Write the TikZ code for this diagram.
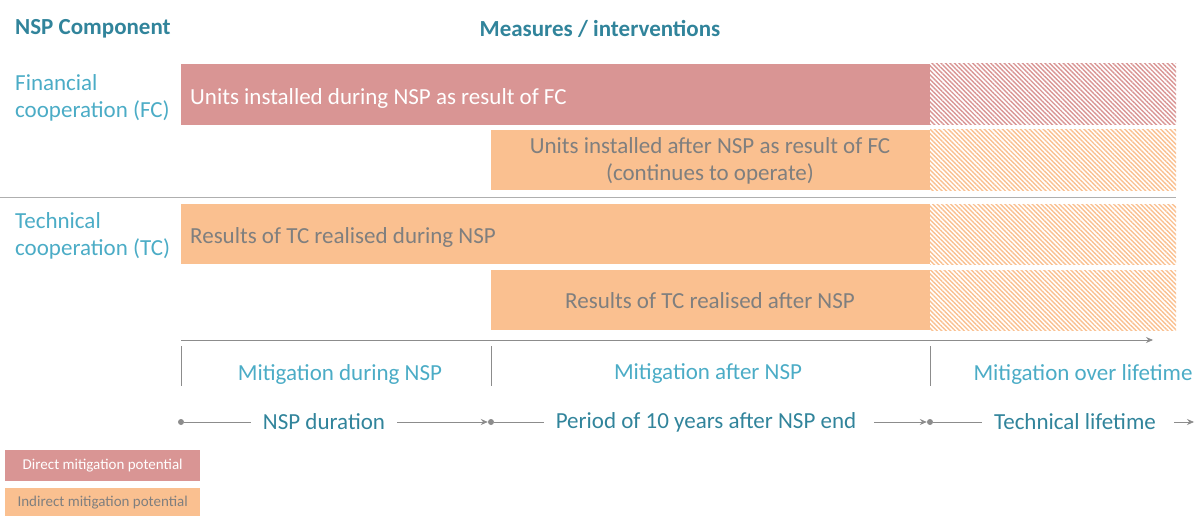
\documentclass[tikz,border=0pt]{standalone}
\usepackage{fontspec}
\setmainfont{Carlito}
\usetikzlibrary{patterns.meta,arrows.meta}

\definecolor{direct}{HTML}{D99594}
\definecolor{indirect}{HTML}{FAC090}
\definecolor{tealdark}{HTML}{31849B}
\definecolor{teallight}{HTML}{4BACC6}
\definecolor{greytext}{HTML}{7F7F7F}
\definecolor{greyline}{HTML}{8C8C8C}

\tikzset{
  head/.style={font=\bfseries\fontsize{23}{27}\selectfont,text=tealdark,inner sep=0pt},
  comp/.style={font=\fontsize{23}{27}\selectfont,text=teallight,align=left,anchor=west,inner sep=0pt},
  bartext/.style={font=\fontsize{23}{27}\selectfont,inner sep=0pt},
  mitig/.style={font=\fontsize{23}{27}\selectfont,text=teallight,inner sep=0pt},
  period/.style={font=\fontsize{23}{27}\selectfont,text=tealdark,inner sep=0pt},
  legendbox/.style={font=\fontsize{15}{18}\selectfont,minimum width=195pt,minimum height=31pt,anchor=north west,inner sep=0pt},
  hatch/.style={pattern={Lines[angle=-45,distance=3.2pt,line width=1.4pt]},pattern color=#1},
  tline/.style={draw=greyline,line width=0.8pt},
  dot/.style={circle,fill=greyline,inner sep=0pt,minimum size=6pt}
}

\begin{document}
\begin{tikzpicture}[x=1pt,y=-1pt]
\useasboundingbox (0,0) rectangle (1197,516);

\node[head,anchor=west] (hcomp) at (15,29) {NSP Component};
\node[head] (hmeas) at (600,29) {Measures / interventions};

%fc
\node[comp] (fc) at (15,98) {Financial\\cooperation (FC)};
\path[fill=direct] (181,64) rectangle (930,125);
\path[hatch=direct] (930,64) rectangle (1176,125);
\node[bartext,text=white,anchor=west] (b1) at (190,98) {Units installed during NSP as result of FC};
\path[fill=indirect] (491,130) rectangle (930,190);
\path[hatch=indirect] (930,130) rectangle (1176,190);
\node[bartext,text=greytext,align=center] (b2) at (710,161) {Units installed after NSP as result of FC\\(continues to operate)};

\path[draw=greyline!70,line width=0.8pt] (0,197) -- (1176,197);

%tc
\node[comp] (tc) at (15,236) {Technical\\cooperation (TC)};
\path[fill=indirect] (181,204) rectangle (930,264);
\path[hatch=indirect] (930,204) rectangle (1176,264);
\node[bartext,text=greytext,anchor=west] (b3) at (190,237) {Results of TC realised during NSP};
\path[fill=indirect] (491,270) rectangle (930,330);
\path[hatch=indirect] (930,270) rectangle (1176,330);
\node[bartext,text=greytext] (b4) at (710,301) {Results of TC realised after NSP};

%time axis
\coordinate (a0) at (181,340);
\coordinate (a1) at (1153,340);
\path[tline,-{Stealth[length=7pt,width=6pt]}] (a0) -- (a1);

\path[tline] (181,346) -- (181,386);
\path[tline] (491,346) -- (491,386);
\path[tline] (930,346) -- (930,386);

\node[mitig] (m1) at (340,374) {Mitigation during NSP};
\node[mitig] (m2) at (708,374) {Mitigation after NSP};
\node[mitig] (m3) at (1083,374) {Mitigation over lifetime};

%periods
\node[dot] (d0) at (181,422) {};
\node[dot] (d1) at (491,422) {};
\node[dot] (d2) at (930,422) {};
\coordinate (d3) at (1194,422);

\node[period] (p1) at (324,422) {NSP duration};
\node[period] (p2) at (706,422) {Period of 10 years after NSP end};
\node[period] (p3) at (1075,422) {Technical lifetime};

\path[tline] (d0) -- ([xshift=-12pt]p1.west);
\path[tline,-{Stealth[length=7pt,width=6pt]}] ([xshift=12pt]p1.east) -- (d1);
\path[tline] (d1) -- ([xshift=-12pt]p2.west);
\path[tline,-{Stealth[length=7pt,width=6pt]}] ([xshift=18pt]p2.east) -- (d2);
\path[tline] (d2) -- ([xshift=-12pt]p3.west);
\path[tline,-{Stealth[length=7pt,width=6pt]}] ([xshift=18pt]p3.east) -- (d3);

%legend
\node[legendbox,fill=direct,text=white] (l1) at (5,450) {Direct mitigation potential};
\node[legendbox,fill=indirect,text=greytext,minimum height=28pt] (l2) at (5,488) {Indirect mitigation potential};

\end{tikzpicture}
\end{document}
